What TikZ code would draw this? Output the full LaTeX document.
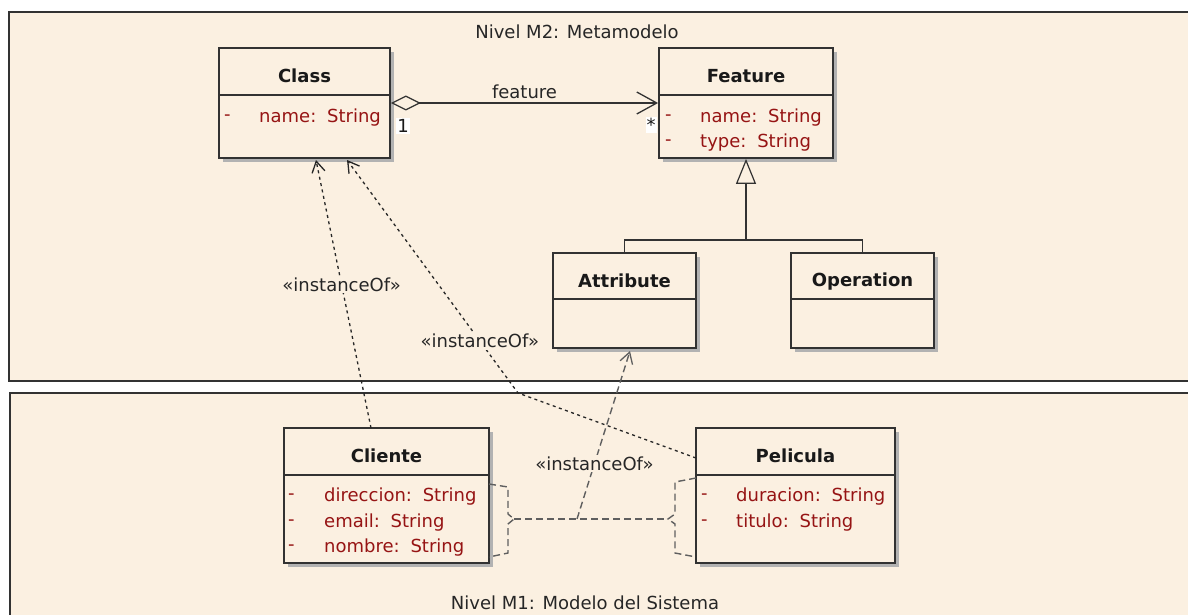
\documentclass[tikz,border=0pt]{standalone}
\usepackage{fontspec}
\setmainfont{DejaVu Sans}
\usetikzlibrary{arrows.meta,shadows,calc}
\definecolor{pkgfill}{RGB}{251,240,225}
\definecolor{attrred}{RGB}{150,20,20}
\definecolor{edgecol}{RGB}{50,50,50}
\definecolor{shade}{RGB}{178,178,178}
\definecolor{depgray}{RGB}{95,95,95}

\begin{document}
\begin{tikzpicture}[x=1pt,y=-1pt,
  font=\fontsize{18}{21}\selectfont,
  pkg/.style={draw=edgecol, line width=1.8pt, fill=pkgfill},
  umlbox/.style={draw=edgecol, line width=1.8pt, fill=pkgfill, inner sep=0pt,
    drop shadow={shadow xshift=4pt, shadow yshift=-4pt, fill=shade, opacity=1}},
  sepline/.style={draw=edgecol, line width=1.8pt},
  ctitle/.style={font=\fontsize{18}{21}\selectfont\bfseries, text=black!90, inner sep=0pt},
  attr/.style={text=attrred, anchor=west, inner sep=0pt},
  pkgtitle/.style={text=black!85, inner sep=0pt},
  solidline/.style={draw=edgecol, line width=1.4pt},
  dep/.style={draw=black!85, line width=1.3pt, dash pattern=on 3pt off 3.5pt,
    -{Straight Barb[length=11pt,width=13pt,line width=1.3pt]}},
  graydash/.style={draw=depgray, line width=1.4pt, dash pattern=on 7pt off 4pt},
  lbl/.style={fill=pkgfill, text=black!85, inner sep=1.5pt},
  mult/.style={fill=white, text=black!90, inner sep=1pt}
]
\useasboundingbox (0,0) rectangle (1188,615);
\fill[white] (0,0) rectangle (1188,615);

% packages
\node[pkg, anchor=north west, minimum width=1190pt, minimum height=369pt] (m2) at (8,11) {};
\node[pkg, anchor=north west, minimum width=1190pt, minimum height=240pt] (m1) at (9,392) {};
\node[pkgtitle] (m2title) at (577,32) {Nivel M2: Metamodelo};
\node[pkgtitle] (m1title) at (585,603) {Nivel M1: Modelo del Sistema};

% Class
\node[umlbox, minimum width=171pt, minimum height=110pt] (class) at (304.5,103) {};
\draw[sepline] ($(class.north west)+(0,48)$) -- ($(class.north east)+(0,48)$);
\node[ctitle] (classT) at ($(class.north)+(0,29)$) {Class};
\node[attr] (classA1d) at (224,118) {-};
\node[attr] (classA1) at (259,118) {name:\hspace{0.6em}String};

% Feature
\node[umlbox, minimum width=174pt, minimum height=110pt] (feature) at (746,103) {};
\draw[sepline] ($(feature.north west)+(0,48)$) -- ($(feature.north east)+(0,48)$);
\node[ctitle] (featureT) at ($(feature.north)+(0,29)$) {Feature};
\node[attr] (featA1d) at (665,118) {-};
\node[attr] (featA1) at (700,118) {name:\hspace{0.6em}String};
\node[attr] (featA2d) at (665,143) {-};
\node[attr] (featA2) at (700,143) {type:\hspace{0.6em}String};

% Attribute
\node[umlbox, minimum width=143pt, minimum height=95pt] (attribute) at (624.5,300.5) {};
\draw[sepline] ($(attribute.north west)+(0,47)$) -- ($(attribute.north east)+(0,47)$);
\node[ctitle] (attributeT) at ($(attribute.north)+(0,29)$) {Attribute};

% Operation
\node[umlbox, minimum width=143pt, minimum height=95pt] (operation) at (862.5,300.5) {};
\draw[sepline] ($(operation.north west)+(0,47)$) -- ($(operation.north east)+(0,47)$);
\node[ctitle] (operationT) at ($(operation.north)+(0,29)$) {Operation};

% Cliente
\node[umlbox, minimum width=205pt, minimum height=135pt] (cliente) at (386.5,495.5) {};
\draw[sepline] ($(cliente.north west)+(0,48)$) -- ($(cliente.north east)+(0,48)$);
\node[ctitle] (clienteT) at ($(cliente.north)+(0,29)$) {Cliente};
\node[attr] (cliA1d) at (288,497) {-};
\node[attr] (cliA1) at (324,497) {direccion:\hspace{0.6em}String};
\node[attr] (cliA2d) at (288,523) {-};
\node[attr] (cliA2) at (324,523) {email:\hspace{0.6em}String};
\node[attr] (cliA3d) at (288,548) {-};
\node[attr] (cliA3) at (324,548) {nombre:\hspace{0.6em}String};

% Pelicula
\node[umlbox, minimum width=199pt, minimum height=135pt] (pelicula) at (795.5,495.5) {};
\draw[sepline] ($(pelicula.north west)+(0,48)$) -- ($(pelicula.north east)+(0,48)$);
\node[ctitle] (peliculaT) at ($(pelicula.north)+(0,29)$) {Pelicula};
\node[attr] (pelA1d) at (701,497) {-};
\node[attr] (pelA1) at (736,497) {duracion:\hspace{0.6em}String};
\node[attr] (pelA2d) at (701,523) {-};
\node[attr] (pelA2) at (736,523) {titulo:\hspace{0.6em}String};

% aggregation Class -> Feature
\draw[solidline, {Diamond[open,length=30pt,width=15pt,line width=1.2pt]}-{Straight Barb[length=20pt,width=22pt,line width=1.3pt]}]
  (class.east) -- node[above=4pt, text=black!85, inner sep=0pt] (featlbl) {feature} (feature.west);
\node[mult] (mult1) at (403,126) {1};
\node[mult] (multN) at (651,125) {*};

% generalization
\coordinate (gj) at (746,240);
\draw[solidline] (attribute.north) |- (gj) -| (operation.north);
\draw[solidline, -{Triangle[open,length=25pt,width=20pt,line width=1.2pt,fill=pkgfill]}] (gj) -- (feature.south);

% instanceOf: Cliente -> Class
\coordinate (c1) at (371,428);
\coordinate (k1) at (316,160);
\draw[dep] (c1) -- node[lbl, pos=0.534] (io1) {«instanceOf»} (k1);

% instanceOf: Pelicula -> Class
\coordinate (p1) at (696,458);
\coordinate (b2) at (518,393);
\coordinate (k2) at (347,160);
\draw[dep] (p1) -- (b2) -- node[lbl, pos=0.223] (io2) {«instanceOf»} (k2);

% link between Cliente and Pelicula
\coordinate (ct) at (489,484);
\coordinate (cb) at (489,557);
\coordinate (cm) at (514,519);
\coordinate (pt) at (696,478);
\coordinate (pb) at (696,557);
\coordinate (pm) at (668,519);
\draw[graydash] (ct) -- (508,487) -- (508,514) -- (cm) -- (508,524) -- (508,553) -- (cb);
\draw[graydash] (pt) -- (675,482) -- (675,514) -- (pm) -- (675,524) -- (675,553) -- (pb);
\draw[graydash] (cm) -- (pm);

% instanceOf: link -> Attribute
\coordinate (m3) at (577,519);
\coordinate (a3) at (630,351);
\draw[graydash, -{Straight Barb[length=11pt,width=13pt,line width=1.3pt]}] (m3) -- node[lbl, pos=0.33] (io3) {«instanceOf»} (a3);
\end{tikzpicture}
\end{document}
